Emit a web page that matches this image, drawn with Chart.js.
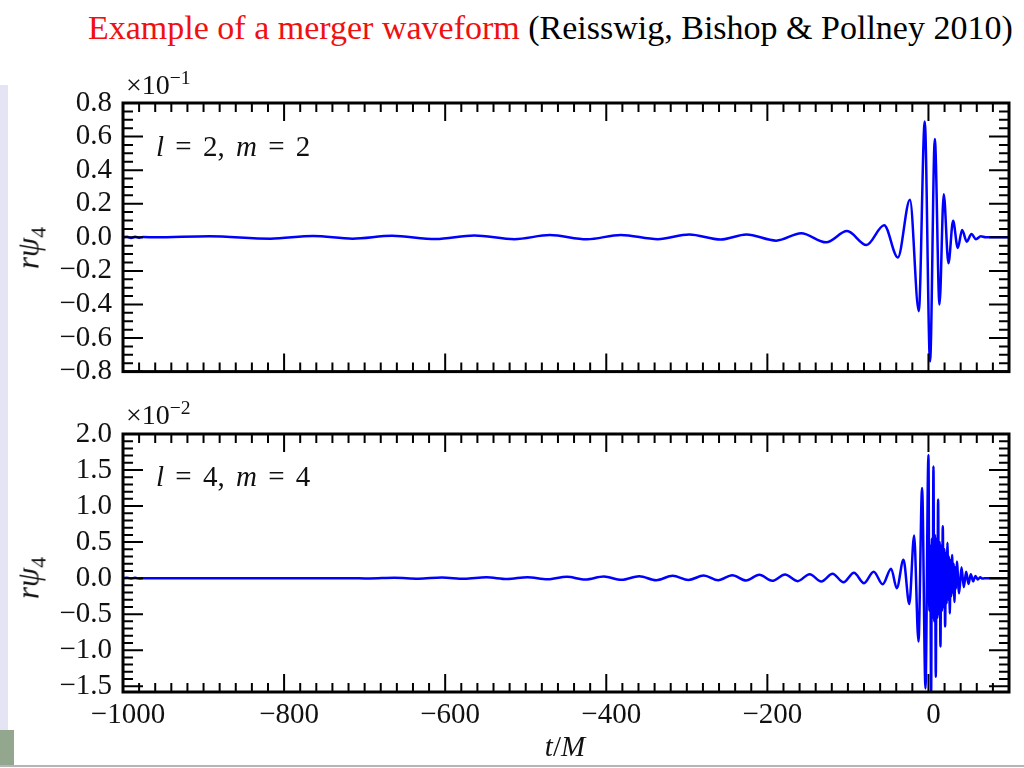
<!DOCTYPE html>
<html>
<head>
<meta charset="utf-8">
<script src="https://cdn.jsdelivr.net/npm/chart.js@4.4.0/dist/chart.umd.min.js"></script>
<style>
body { margin: 0; width: 1024px; height: 768px; overflow: hidden; background: #fff;
       position: relative; font-family: "Liberation Serif", serif; color: #111; }
canvas { position: absolute; left: 0; }
.txt { position: absolute; white-space: nowrap; line-height: 1; }
.title { left: 88px; top: 11px; font-size: 34px; color: #000; }
.title span { color: #f01010; }
.exp { font-size: 28px; left: 126px; }
.exp sup { font-size: 0.7em; vertical-align: baseline; position: relative; top: -0.5em; }
.plab { font-size: 29px; left: 156px; word-spacing: 4px; }
.ylab { font-size: 31px; left: 28px; transform: translate(-50%, -50%) rotate(-90deg); }
.ylab sub { font-size: 0.7em; vertical-align: baseline; position: relative; top: 0.3em; font-style: normal; }
.xlab { font-size: 29px; left: 565px; top: 732px; transform: translateX(-50%); }
#strip { position: absolute; left: 0; top: 85px; width: 8px; height: 645px; background: #e4e4f4; }
#block { position: absolute; left: 0; top: 730px; width: 14px; height: 36px; background: #92a78e; }
#rule { position: absolute; left: 0; top: 765px; width: 1024px; height: 2px; background: #b5b5b5; }
</style>
</head>
<body>
<div id="strip"></div><div id="block"></div><div id="rule"></div>
<canvas id="c22" width="1024" height="340" style="top:60px"></canvas>
<canvas id="c44" width="1024" height="368" style="top:400px"></canvas>

<div class="txt title"><span>Example of a merger waveform</span> (Reisswig, Bishop &amp; Pollney 2010)</div>
<div class="txt exp" style="top:71px">×10<sup>−1</sup></div>
<div class="txt exp" style="top:401px">×10<sup>−2</sup></div>
<div class="txt plab" style="top:132px"><i>l</i> = 2, <i>m</i> = 2</div>
<div class="txt plab" style="top:462px"><i>l</i> = 4, <i>m</i> = 4</div>
<div class="txt ylab" style="top:248px"><i>rψ</i><sub>4</sub></div>
<div class="txt ylab" style="top:578px"><i>rψ</i><sub>4</sub></div>
<div class="txt xlab"><i>t</i>/<i>M</i></div>

<script>
// time axis (t/M) and ranges
const tRange = [-1000, 100];
const tStep = 20, tMajor = 200;

// l=2, m=2 mode, r psi_4 in units of 1e-1
const t22 = [-1000, -995, -990, -985, -980, -975, -960, -893, -817, -764, -715, -666, -612, -564,
    -514, -470, -424, -382, -336, -297, -258, -226, -189, -158, -127, -101, -77, -55, -38, -23,
    -12, -4.6, 2, 7.9, 13.7, 19, 24.8, 30.6, 36.4, 41.8, 47.6, 53.4, 59, 65, 71, 100];
const psi22 = [0, 0.004, -0.004, 0.004, -0.003, 0.002, 0, 0.006, -0.008, 0.008, -0.008, 0.009, -0.010, 0.011,
    -0.011, 0.013, -0.012, 0.014, -0.011, 0.017, -0.013, 0.017, -0.020, 0.024, -0.030, 0.037, -0.046, 0.072, -0.12, 0.224,
    -0.44, 0.69, -0.74, 0.585, -0.40, 0.257, -0.155, 0.098, -0.063, 0.043, -0.026, 0.020, -0.011, 0.006, 0, 0];
const yRange22 = [-0.8, 0.8];
const yStep22 = 0.05, yMajor22 = 0.2;

// l=4, m=4 mode, r psi_4 in units of 1e-2
const t44 = [-1000, -995, -990, -985, -980, -970, -720, -694, -663, -633, -604, -576, -549, -523,
    -498, -473, -449, -426, -403, -381, -359, -338, -317.6, -298, -279, -261, -243.5, -226.5, -210, -194,
    -178, -162.5, -147.5, -133, -119, -105.5, -92.5, -80, -68, -56.8, -46.4, -39.3, -31, -23.8,
    -17.8, -12.4, -7.9, -3.7,
    0, 1.1, 2.2, 3.3, 4.3, 5.2, 6.2, 7.2, 8.1, 9.1, 10.1, 11, 12, 13, 13.9, 14.9, 15.9, 16.8,
    17.8, 18.8, 19.7, 20.7, 21.7, 22.6, 23.6, 24.6, 25.5, 26.5, 27.5, 28.4, 29.4, 30.4, 31.3,
    32.3, 33.3, 34.2, 35.2, 38.1, 41, 43.9, 46.8, 49.7, 52.6, 55.5, 58.4, 61.3, 64.2, 67.1, 72, 100];
const psi44 = [0, 0.006, -0.006, 0.005, -0.004, 0, 0, -0.005, 0.006, -0.007, 0.008, -0.010, 0.011, -0.012,
    0.014, -0.016, 0.018, -0.020, 0.022, -0.024, 0.026, -0.028, 0.032, -0.026, 0.037, -0.029, 0.041, -0.033, 0.046, -0.037,
    0.050, -0.042, 0.055, -0.046, 0.060, -0.058, 0.075, -0.070, 0.088, -0.085, 0.13, -0.14, 0.254, -0.36,
    0.59, -0.88, 1.25, -1.53,
    1.71, -0.45, 0.45, -1.62, 0.55, -0.55, 1.55, -0.6, 0.6, -1.37, 0.55, -0.55, 1.09, -0.5, 0.5, -0.95, 0.45, -0.45,
    0.72, -0.4, 0.4, -0.67, 0.35, -0.35, 0.49, -0.3, 0.3, -0.49, 0.25, -0.25, 0.32, -0.2, 0.2,
    -0.33, 0.15, -0.15, 0.23, -0.21, 0.15, -0.125, 0.09, -0.08, 0.055, -0.045, 0.03, -0.02, 0.012, -0.006, 0, 0];
const yRange44 = [-1.58, 2.0];
const yStep44 = 0.1, yMajor44 = 0.5;

const tickFont = { family: 'Liberation Serif', size: 29 };

function onGrid (v, step) {
    return Math.abs(v / step - Math.round(v / step)) < 1e-6;
}

function fmt (v, digits) {
    return v.toFixed(digits).replace('-', '\u2212');
}

// black frame with inward ticks on all four sides, like the matplotlib original
const frameTicks = {
    id: 'frameTicks',
    afterDraw (chart, args, opts) {
        const {ctx, chartArea: a, scales} = chart;
        ctx.save();
        ctx.strokeStyle = '#000';
        ctx.lineWidth = 2;
        ctx.beginPath();
        scales.x.ticks.forEach(tk => {
            if (!onGrid(tk.value, opts.xStep)) return;
            const px = scales.x.getPixelForValue(tk.value);
            const len = onGrid(tk.value, opts.xMajor) ? 18 : 9;
            ctx.moveTo(px, a.top); ctx.lineTo(px, a.top + len);
            ctx.moveTo(px, a.bottom); ctx.lineTo(px, a.bottom - len);
        });
        scales.y.ticks.forEach(tk => {
            if (!onGrid(tk.value, opts.yStep)) return;
            const py = scales.y.getPixelForValue(tk.value);
            const len = onGrid(tk.value, opts.yMajor) ? 20 : 10;
            ctx.moveTo(a.left, py); ctx.lineTo(a.left + len, py);
            ctx.moveTo(a.right, py); ctx.lineTo(a.right - len, py);
        });
        ctx.stroke();
        ctx.lineWidth = 3;
        ctx.strokeRect(a.left, a.top, a.right - a.left, a.bottom - a.top);
        ctx.restore();
    }
};

function makeChart (id, ts, vals, yRange, yStep, yMajor, showX, pad) {
    const pts = ts.map((t, i) => ({x: t, y: vals[i]}));
    return new Chart(document.getElementById(id), {
        type: 'line',
        data: {
            datasets: [{
                data: pts,
                borderColor: '#0000ff',
                borderWidth: 2.5,
                pointRadius: 0,
                cubicInterpolationMode: 'monotone',
                fill: false
            }]
        },
        plugins: [frameTicks],
        options: {
            responsive: false,
            animation: false,
            events: [],
            layout: { padding: pad },
            plugins: {
                legend: { display: false },
                tooltip: { enabled: false },
                frameTicks: { xStep: tStep, xMajor: tMajor, yStep: yStep, yMajor: yMajor }
            },
            scales: {
                x: {
                    type: 'linear',
                    min: tRange[0],
                    max: tRange[1],
                    grid: { display: false, drawTicks: false },
                    border: { display: false },
                    afterFit: s => { s.height = showX ? 76 : 0; },
                    ticks: {
                        display: showX,
                        stepSize: tStep,
                        autoSkip: false,
                        maxRotation: 0,
                        minRotation: 0,
                        padding: 6,
                        labelOffset: 5,
                        color: '#111',
                        font: tickFont,
                        callback: v => onGrid(v, tMajor) ? fmt(v, 0) : ''
                    }
                },
                y: {
                    min: yRange[0],
                    max: yRange[1],
                    grid: { display: false, drawTicks: false },
                    border: { display: false },
                    afterFit: s => { s.width = 123; },
                    ticks: {
                        stepSize: yStep,
                        includeBounds: false,
                        autoSkip: false,
                        padding: 11,
                        color: '#111',
                        font: tickFont,
                        callback: v => onGrid(v, yMajor) ? fmt(v, 1) : ''
                    }
                }
            }
        }
    });
}

makeChart('c22', t22, psi22, yRange22, yStep22, yMajor22, false, {top: 43, right: 15, bottom: 9, left: 0});
makeChart('c44', t44, psi44, yRange44, yStep44, yMajor44, true, {top: 34, right: 15, bottom: 0, left: 0});
</script>
</body>
</html>
